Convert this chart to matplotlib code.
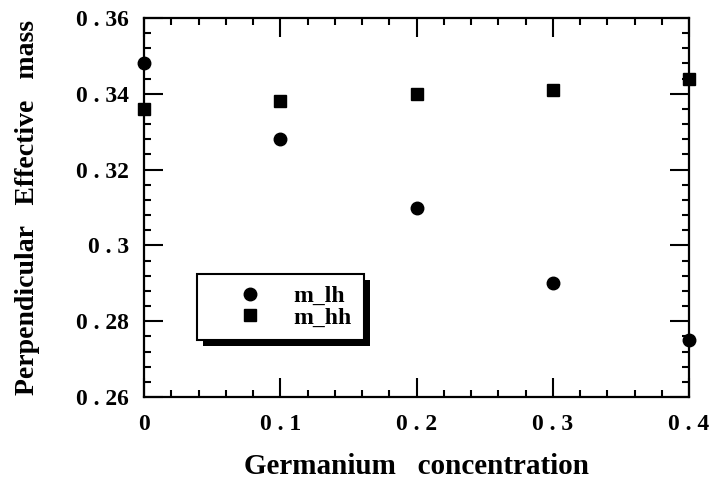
import numpy as np
import matplotlib
matplotlib.use("Agg")
import matplotlib.pyplot as plt
from matplotlib.ticker import MultipleLocator, FuncFormatter
from matplotlib.patches import Rectangle
from matplotlib.transforms import IdentityTransform

# data
ge_conc = [0.0, 0.1, 0.2, 0.3, 0.4]
m_lh = [0.348, 0.328, 0.310, 0.290, 0.275]
m_hh = [0.336, 0.338, 0.340, 0.341, 0.344]

plt.rcParams['font.family'] = ['Liberation Serif', 'DejaVu Serif']
plt.rcParams['font.weight'] = 'bold'


def spaced(v, pos):
    # labels look like "0 . 36" in the original
    s = f"{v:.2f}".rstrip('0').rstrip('.') if v != 0 else "0"
    return s.replace('.', ' . ')


fig = plt.figure(figsize=(7.14, 4.82), dpi=100)
ax = fig.add_axes([0.2017, 0.1763, 0.7633, 0.7864])

ax.plot(ge_conc, m_lh, 'o', color='black', ms=9, label='m_lh', clip_on=False, zorder=5)
ax.plot(ge_conc, m_hh, 's', color='black', ms=9, label='m_hh', clip_on=False, zorder=5)

ax.set_xlim(0, 0.4)
ax.set_ylim(0.26, 0.36)
ax.xaxis.set_major_locator(MultipleLocator(0.1))
ax.xaxis.set_minor_locator(MultipleLocator(0.02))
ax.yaxis.set_major_locator(MultipleLocator(0.02))
ax.yaxis.set_minor_locator(MultipleLocator(0.004))
ax.xaxis.set_major_formatter(FuncFormatter(spaced))
ax.yaxis.set_major_formatter(FuncFormatter(spaced))

ax.tick_params(which='both', direction='in', top=True, right=True, width=1.5, color='black')
ax.tick_params(which='major', length=14)
ax.tick_params(which='minor', length=5)
ax.tick_params(axis='x', which='major', pad=12, labelsize=17)
ax.tick_params(axis='y', which='major', pad=11, labelsize=17)
for sp in ax.spines.values():
    sp.set_linewidth(1.6)

ax.set_xlabel("Germanium   concentration", fontsize=21, fontweight='bold', labelpad=13)
ax.set_ylabel("Perpendicular   Effective   mass", fontsize=20, fontweight='bold', labelpad=26)

leg = ax.legend(loc='lower left', bbox_to_anchor=(0.097, 0.15), fontsize=17,
                frameon=True, fancybox=False, edgecolor='black', framealpha=1,
                borderpad=0.5, handletextpad=0.1, labelspacing=0.0,
                borderaxespad=0, markerfirst=True, handlelength=3.5)
leg.get_frame().set_linewidth(1.5)
leg.set_zorder(10)

# drop shadow under the legend box
fig.canvas.draw()
bb = leg.get_window_extent()
shadow = Rectangle((bb.x0 + 6, bb.y0 - 6), bb.width, bb.height, transform=IdentityTransform(),
                   facecolor='black', edgecolor='none', zorder=9, clip_on=False)
ax.add_artist(shadow)

fig.savefig("out.png", dpi=100)
